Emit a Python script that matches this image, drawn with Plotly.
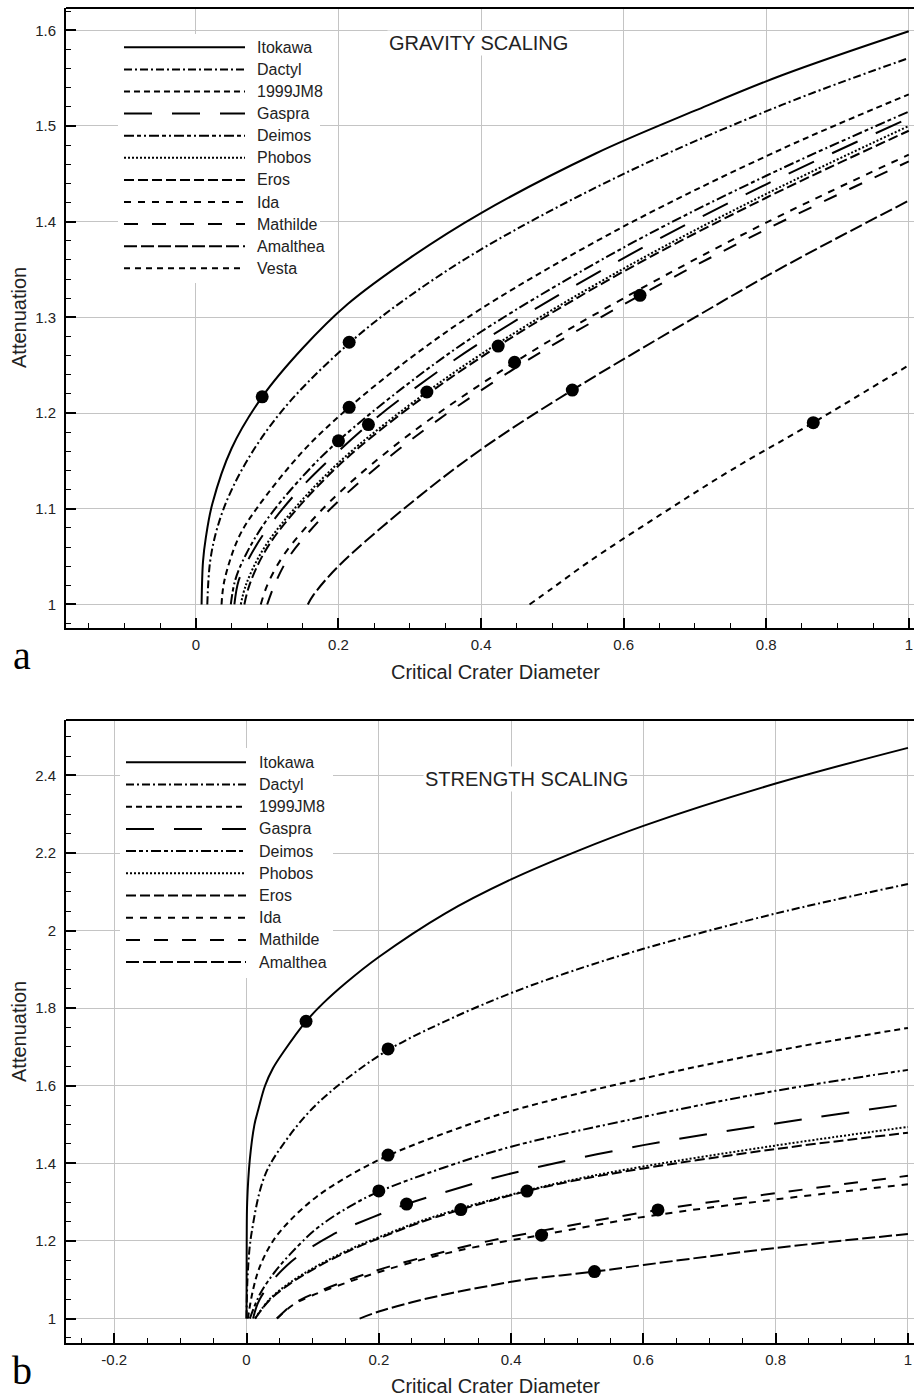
import plotly.graph_objects as go

# ---------------- data ----------------
names = ["Itokawa", "Dactyl", "1999JM8", "Gaspra", "Deimos", "Phobos",
         "Eros", "Ida", "Mathilde", "Amalthea", "Vesta"]

# Gravity scaling curves (x = critical crater diameter, y = attenuation)
grav_itokawa = [(0.008, 1.0), (0.01, 1.045), (0.014, 1.07), (0.023, 1.105), (0.05, 1.163), (0.093, 1.217),
                (0.15, 1.268), (0.213, 1.314), (0.3, 1.362), (0.4, 1.409), (0.56, 1.471), (0.7, 1.516),
                (0.822, 1.553), (1.0, 1.599)]
grav_dactyl = [(0.016, 1.0), (0.02, 1.045), (0.03, 1.08), (0.049, 1.118), (0.084, 1.165), (0.133, 1.213),
               (0.215, 1.273), (0.288, 1.316), (0.4, 1.371), (0.6, 1.45), (0.822, 1.522), (1.0, 1.571)]
grav_1999jm8 = [(0.036, 1.0), (0.04, 1.025), (0.06, 1.07), (0.085, 1.1), (0.15, 1.16), (0.215, 1.206),
                (0.3, 1.257), (0.4, 1.309), (0.6, 1.395), (0.822, 1.476), (1.0, 1.533)]
grav_gaspra = [(0.054, 1.0), (0.06, 1.025), (0.075, 1.049), (0.1, 1.079), (0.15, 1.124), (0.242, 1.188),
               (0.3, 1.222), (0.4, 1.274), (0.6, 1.362), (0.8, 1.439), (1.0, 1.508)]
grav_deimos = [(0.049, 1.0), (0.055, 1.025), (0.07, 1.052), (0.1, 1.089), (0.15, 1.134), (0.2, 1.171),
               (0.3, 1.232), (0.4, 1.285), (0.6, 1.373), (0.8, 1.448), (1.0, 1.515)]
grav_phobos = [(0.063, 1.0), (0.07, 1.02), (0.09, 1.052), (0.12, 1.084), (0.2, 1.148), (0.324, 1.222),
               (0.424, 1.273), (0.6, 1.351), (0.8, 1.429), (1.0, 1.5)]
grav_eros = [(0.068, 1.0), (0.075, 1.02), (0.095, 1.053), (0.125, 1.085), (0.2, 1.145), (0.3, 1.206),
             (0.424, 1.27), (0.6, 1.348), (0.8, 1.425), (1.0, 1.495)]
grav_ida = [(0.091, 1.0), (0.1, 1.02), (0.12, 1.048), (0.15, 1.077), (0.2, 1.116), (0.3, 1.178),
            (0.447, 1.253), (0.6, 1.32), (0.8, 1.399), (1.0, 1.47)]
grav_mathilde = [(0.1, 1.0), (0.11, 1.02), (0.13, 1.049), (0.16, 1.077), (0.2, 1.108), (0.3, 1.171),
                 (0.45, 1.248), (0.623, 1.323), (0.8, 1.392), (1.0, 1.463)]
grav_amalthea = [(0.157, 1.0), (0.165, 1.01), (0.2, 1.04), (0.3, 1.105), (0.4, 1.162), (0.528, 1.224),
                 (0.7, 1.3), (0.822, 1.352), (1.0, 1.422)]
grav_vesta = [(0.468, 1.0), (0.5, 1.017), (0.55, 1.044), (0.65, 1.093), (0.75, 1.14), (0.866, 1.19),
              (1.0, 1.25)]

grav_dot_x = [0.093, 0.215, 0.215, 0.242, 0.2, 0.324, 0.424, 0.447, 0.623, 0.528, 0.866]
grav_dot_y = [1.217, 1.274, 1.206, 1.188, 1.171, 1.222, 1.270, 1.253, 1.323, 1.224, 1.19]

# Strength scaling curves
str_itokawa = [(0.0, 1.0), (0.0003, 1.2), (0.001, 1.3), (0.005, 1.41), (0.012, 1.5), (0.018, 1.54),
               (0.028, 1.6), (0.04, 1.645), (0.055, 1.685), (0.09, 1.766), (0.116, 1.813), (0.15, 1.865),
               (0.2, 1.932), (0.3, 2.044), (0.4, 2.132), (0.5, 2.205), (0.6, 2.27), (0.8, 2.379),
               (1.0, 2.471)]
str_dactyl = [(0.0, 1.0), (0.002, 1.12), (0.0076, 1.22), (0.028, 1.37), (0.06, 1.46), (0.101, 1.544),
              (0.15, 1.616), (0.214, 1.692), (0.3, 1.766), (0.4, 1.839), (0.5, 1.9), (0.6, 1.953),
              (0.8, 2.044), (1.0, 2.12)]
str_1999jm8 = [(0.002, 1.0), (0.01, 1.075), (0.02, 1.133), (0.04, 1.2), (0.066, 1.253), (0.106, 1.314),
               (0.157, 1.37), (0.214, 1.42), (0.3, 1.478), (0.4, 1.535), (0.6, 1.619), (0.8, 1.69),
               (1.0, 1.749)]
str_gaspra = [(0.01, 1.0), (0.02, 1.05), (0.061, 1.137), (0.129, 1.215), (0.192, 1.262), (0.242, 1.295),
              (0.3, 1.326), (0.4, 1.374), (0.6, 1.447), (0.8, 1.503), (1.0, 1.553)]
str_deimos = [(0.005, 1.0), (0.02, 1.062), (0.04, 1.114), (0.066, 1.166), (0.106, 1.232), (0.157, 1.29),
              (0.2, 1.327), (0.3, 1.39), (0.4, 1.443), (0.6, 1.52), (0.8, 1.587), (1.0, 1.641)]
str_phobos = [(0.013, 1.0), (0.035, 1.05), (0.066, 1.093), (0.106, 1.135), (0.157, 1.179), (0.208, 1.215),
              (0.258, 1.248), (0.324, 1.284), (0.424, 1.33), (0.5, 1.36), (0.6, 1.392), (0.8, 1.446),
              (1.0, 1.494)]
str_eros = [(0.013, 1.0), (0.035, 1.048), (0.066, 1.09), (0.106, 1.132), (0.157, 1.176), (0.208, 1.212),
            (0.258, 1.245), (0.324, 1.281), (0.424, 1.3285), (0.5, 1.357), (0.6, 1.387), (0.8, 1.437),
            (1.0, 1.479)]
str_ida = [(0.046, 1.0), (0.07, 1.035), (0.1, 1.06), (0.147, 1.09), (0.208, 1.124), (0.283, 1.16),
           (0.353, 1.187), (0.445, 1.215), (0.6, 1.262), (0.8, 1.307), (1.0, 1.346)]
str_mathilde = [(0.046, 1.0), (0.07, 1.037), (0.1, 1.063), (0.147, 1.095), (0.208, 1.13), (0.283, 1.165),
                (0.353, 1.195), (0.445, 1.226), (0.622, 1.28), (0.8, 1.323), (1.0, 1.368)]
str_amalthea = [(0.171, 1.0), (0.2, 1.018), (0.25, 1.042), (0.3, 1.062), (0.353, 1.08), (0.42, 1.1),
                (0.526, 1.121), (0.6, 1.138), (0.8, 1.182), (1.0, 1.218)]

str_dot_x = [0.09, 0.214, 0.214, 0.242, 0.2, 0.324, 0.424, 0.446, 0.622, 0.526]
str_dot_y = [1.766, 1.695, 1.4215, 1.295, 1.329, 1.281, 1.3285, 1.215, 1.28, 1.121]

grav_curves = [grav_itokawa, grav_dactyl, grav_1999jm8, grav_gaspra, grav_deimos, grav_phobos,
               grav_eros, grav_ida, grav_mathilde, grav_amalthea, grav_vesta]
str_curves = [str_itokawa, str_dactyl, str_1999jm8, str_gaspra, str_deimos, str_phobos,
              str_eros, str_ida, str_mathilde, str_amalthea]

top_xticks = [0, 0.2, 0.4, 0.6, 0.8, 1]
bot_xticks = [-0.2, 0, 0.2, 0.4, 0.6, 0.8, 1]

# ---------------- styling ----------------
dashes = ["solid", "8px,3px,2px,3px", "6px,4px", "28px,20px", "10px,3px,4px,3px,2px,3px",
          "2px,2px", "10px,4px", "7px,7px", "14px,14px", "13px,4px", "6px,5px"]

W, H = 914, 1399
ML = 66
FONT = "Liberation Sans, Arial, sans-serif"


def pxx(xp):            # page x pixel -> paper x
    return (xp - ML) / (W - ML)


def pxy(yp):            # page y pixel -> paper y
    return 1 - yp / H


fig = go.Figure()

for i, c in enumerate(grav_curves):
    fig.add_trace(go.Scatter(x=[p[0] for p in c], y=[p[1] for p in c], mode="lines",
                             line=dict(color="black", width=2, dash=dashes[i], shape="spline", smoothing=1.0),
                             name=names[i], showlegend=False, xaxis="x", yaxis="y", hoverinfo="skip"))
fig.add_trace(go.Scatter(x=grav_dot_x, y=grav_dot_y, mode="markers",
                         marker=dict(color="black", size=13), showlegend=False, xaxis="x", yaxis="y"))

for i, c in enumerate(str_curves):
    fig.add_trace(go.Scatter(x=[p[0] for p in c], y=[p[1] for p in c], mode="lines",
                             line=dict(color="black", width=2, dash=dashes[i], shape="spline", smoothing=1.0),
                             name=names[i], showlegend=False, xaxis="x2", yaxis="y2", hoverinfo="skip"))
fig.add_trace(go.Scatter(x=str_dot_x, y=str_dot_y, mode="markers",
                         marker=dict(color="black", size=13), showlegend=False, xaxis="x2", yaxis="y2"))


def xax(rng, ticks, anchor):
    return dict(range=rng, domain=[0, 1], anchor=anchor, tickmode="array", tickvals=ticks,
                ticktext=["%g" % t for t in ticks],
                ticks="inside", ticklen=10, tickwidth=1.5, tickcolor="black",
                minor=dict(tick0=0, dtick=0.05, ticks="inside", ticklen=5, tickwidth=1, tickcolor="black",
                           showgrid=False),
                showline=True, linewidth=2, linecolor="black", showgrid=True, gridcolor="#c4c4c4",
                gridwidth=1, zeroline=False, tickfont=dict(family=FONT, size=15, color="#222"),
                ticklabelstandoff=2, ticklabeloverflow="allow")


def yax(rng, dom, dtick, mdtick, anchor):
    return dict(range=rng, domain=dom, anchor=anchor, tick0=0, dtick=dtick,
                ticks="inside", ticklen=10, tickwidth=1.5, tickcolor="black",
                minor=dict(tick0=0, dtick=mdtick, ticks="inside", ticklen=5, tickwidth=1, tickcolor="black",
                           showgrid=False),
                showline=True, linewidth=2, linecolor="black", showgrid=True, gridcolor="#c4c4c4",
                gridwidth=1, zeroline=False, tickfont=dict(family=FONT, size=15, color="#222"),
                ticklabelstandoff=5, ticklabeloverflow="allow")


top_dom = [pxy(628), pxy(8)]
bot_dom = [pxy(1343), pxy(720)]

fig.update_layout(
    width=W, height=H, margin=dict(l=ML, r=0, t=0, b=0),
    paper_bgcolor="white", plot_bgcolor="white",
    xaxis=xax([-0.1822, 1.0073], top_xticks, "y"),
    yaxis=yax([0.9754, 1.6233], top_dom, 0.1, 0.02, "x"),
    xaxis2=xax([-0.2729, 1.0091], bot_xticks, "y2"),
    yaxis2=yax([0.937, 2.5428], bot_dom, 0.2, 0.05, "x2"),
    font=dict(family=FONT, color="#222"),
)

shapes = []
annots = []
# top frame lines
for xr, yr in (("x domain", "y domain"), ("x2 domain", "y2 domain")):
    shapes.append(dict(type="line", xref=xr, yref=yr, x0=0, x1=1, y0=1, y1=1,
                       line=dict(color="black", width=2), layer="above"))

# legend boxes and entries
legends = [
    dict(box=(118, 34, 320, 283), x0=124, x1=245, tx=255, y0=47.3, dy=22.1, n=11),
    dict(box=(120, 748, 333, 978), x0=126, x1=246, tx=257, y0=762.3, dy=22.2, n=10),
]
for lg in legends:
    bx0, by0, bx1, by1 = lg["box"]
    shapes.append(dict(type="rect", xref="paper", yref="paper", x0=pxx(bx0), x1=pxx(bx1),
                       y0=pxy(by1), y1=pxy(by0), fillcolor="white", line=dict(width=0), layer="above"))
    for i in range(lg["n"]):
        yy = lg["y0"] + i * lg["dy"]
        shapes.append(dict(type="line", xref="paper", yref="paper", x0=pxx(lg["x0"]), x1=pxx(lg["x1"]),
                           y0=pxy(yy), y1=pxy(yy), line=dict(color="black", width=2, dash=dashes[i]),
                           layer="above"))
        annots.append(dict(xref="paper", yref="paper", x=pxx(lg["tx"]), y=pxy(yy), text=names[i],
                           showarrow=False, xanchor="left", yanchor="middle",
                           font=dict(family=FONT, size=16, color="#222")))

annots += [
    dict(xref="paper", yref="paper", x=pxx(478), y=pxy(43), text="GRAVITY SCALING", showarrow=False,
         xanchor="center", yanchor="middle", bgcolor="white", font=dict(family=FONT, size=20, color="#222")),
    dict(xref="paper", yref="paper", x=pxx(526), y=pxy(779), text="STRENGTH SCALING", showarrow=False,
         xanchor="center", yanchor="middle", bgcolor="white", font=dict(family=FONT, size=20, color="#222")),
    dict(xref="paper", yref="paper", x=pxx(495), y=pxy(672), text="Critical Crater Diameter",
         showarrow=False, xanchor="center", yanchor="middle", font=dict(family=FONT, size=20, color="#222")),
    dict(xref="paper", yref="paper", x=pxx(495), y=pxy(1386), text="Critical Crater Diameter",
         showarrow=False, xanchor="center", yanchor="middle", font=dict(family=FONT, size=20, color="#222")),
    dict(xref="paper", yref="paper", x=pxx(19), y=pxy(318), text="Attenuation", textangle=-90,
         showarrow=False, xanchor="center", yanchor="middle", font=dict(family=FONT, size=20, color="#222")),
    dict(xref="paper", yref="paper", x=pxx(19), y=pxy(1032), text="Attenuation", textangle=-90,
         showarrow=False, xanchor="center", yanchor="middle", font=dict(family=FONT, size=20, color="#222")),
    dict(xref="paper", yref="paper", x=pxx(22), y=pxy(655), text="a", showarrow=False,
         xanchor="center", yanchor="middle", font=dict(family="Liberation Serif, Times New Roman, serif",
                                                       size=40, color="black")),
    dict(xref="paper", yref="paper", x=pxx(22), y=pxy(1370), text="b", showarrow=False,
         xanchor="center", yanchor="middle", font=dict(family="Liberation Serif, Times New Roman, serif",
                                                       size=40, color="black")),
]

fig.update_layout(shapes=shapes, annotations=annots)
fig.write_html("out.html", config=dict(displayModeBar=False),
               post_script="document.body.style.margin='0';document.body.style.overflow='hidden';")
